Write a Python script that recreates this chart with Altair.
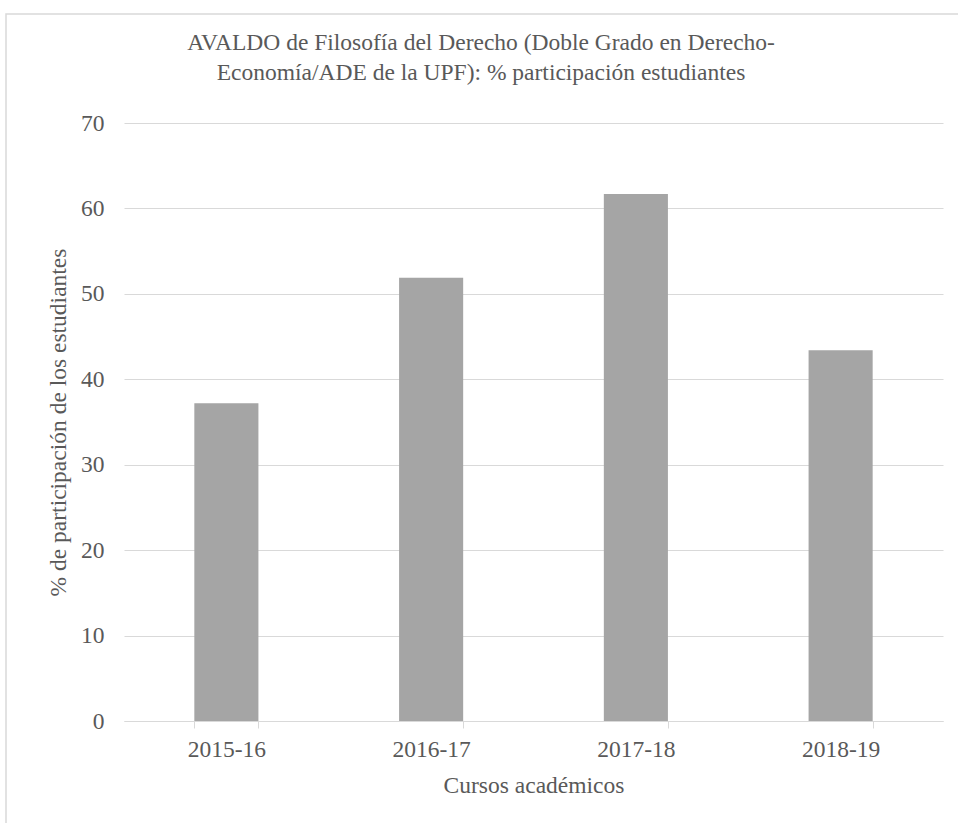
import altair as alt
import pandas as pd

cursos = ["2015-16", "2016-17", "2017-18", "2018-19"]
participacion = [37.2, 51.9, 61.7, 43.4]
titulo = ["AVALDO de Filosofía del Derecho (Doble Grado en Derecho-",
          "Economía/ADE de la UPF): % participación estudiantes"]

df = pd.DataFrame({"curso": cursos, "valor": participacion})
df_one = pd.DataFrame({"k": [0]})

W, H = 819, 598
FONT = "Liberation Serif"
FS = 23.5
TXT = "#595959"
GRID = "#d9d9d9"

bars = alt.Chart(df).mark_bar(color="#a5a5a5").encode(
    x=alt.X("curso:N", sort=cursos,
            scale=alt.Scale(paddingInner=0.687, paddingOuter=0.3435),
            axis=alt.Axis(title="Cursos académicos", labelAngle=0,
                          tickBand="extent", tickSize=7, tickColor=GRID,
                          domainColor=GRID, labelPadding=9, titlePadding=13,
                          grid=False)),
    y=alt.Y("valor:Q", scale=alt.Scale(domain=[0, 70]),
            axis=alt.Axis(title="% de participación de los estudiantes",
                          values=[0, 10, 20, 30, 40, 50, 60, 70],
                          domain=False, ticks=False, gridColor=GRID,
                          labelPadding=20, titlePadding=10)),
)

border = alt.Chart(df_one).mark_rect(fill=None, stroke=GRID, strokeWidth=1.5).encode(
    x=alt.value(-118), x2=alt.value(W + 40),
    y=alt.value(-109), y2=alt.value(H + 150),
)

title = alt.Chart(df_one).mark_text(
    text=titulo, font=FONT, fontSize=FS, color=TXT, align="center",
    baseline="alphabetic", lineHeight=30, fontWeight="normal",
).encode(x=alt.value(357), y=alt.value(-73))

chart = alt.layer(border, bars, title).properties(
    width=W, height=H,
    autosize=alt.AutoSizeParams(type="none"),
    padding={"left": 124, "top": 123, "right": 15, "bottom": 102},
).configure_view(stroke=None).configure_axis(
    labelFont=FONT, titleFont=FONT, labelFontSize=FS, titleFontSize=FS,
    labelColor=TXT, titleColor=TXT, titleFontWeight="normal",
)

chart.save("out.html", embed_options={"renderer": "svg", "actions": False})
